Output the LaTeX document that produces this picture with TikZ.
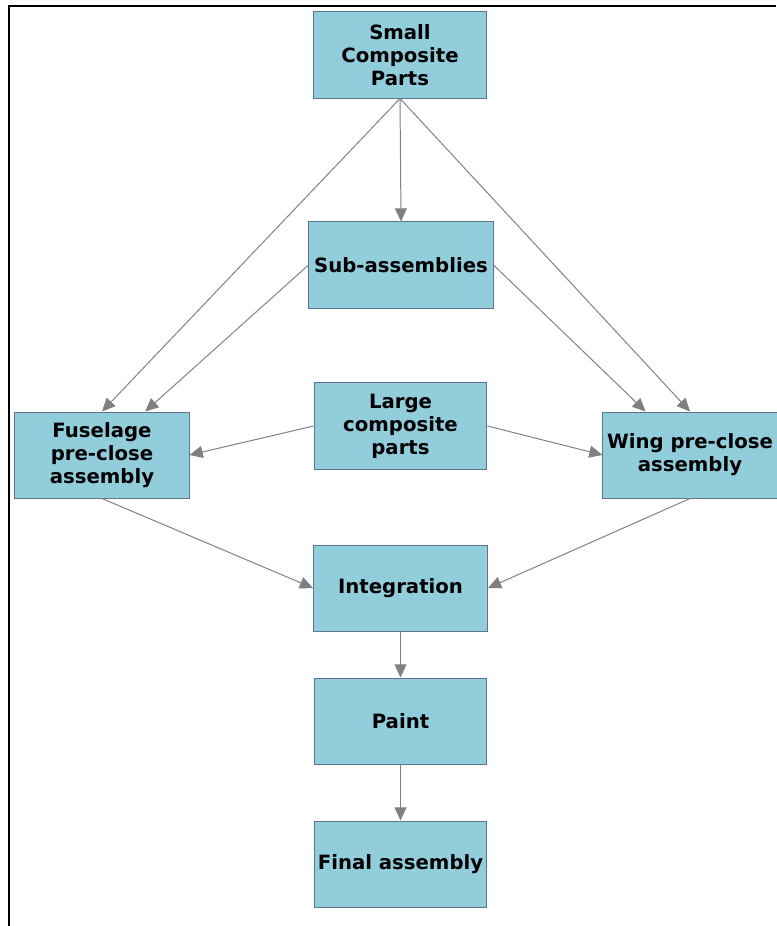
\documentclass[tikz,border=0pt]{standalone}
\usepackage{fontspec}
\setmainfont{DejaVu Sans}
\usetikzlibrary{arrows.meta}
\definecolor{boxfill}{HTML}{92CDDC}
\definecolor{boxline}{HTML}{5E7391}
\definecolor{flow}{HTML}{808080}

\begin{document}
\begin{tikzpicture}[x=0.025cm,y=-0.025cm,
  stage/.style={draw=boxline,fill=boxfill,line width=0.7pt,minimum width=4.32cm,minimum height=2.15cm,align=center,inner sep=0pt,font=\fontsize{14}{16.4}\selectfont\bfseries},
  flowto/.style={draw=flow,line width=0.7pt,-{Triangle[length=0.33cm,width=0.3cm]}}]
\useasboundingbox (0,0) rectangle (776,926);
\draw[line width=1.4pt] (9,926) -- (9,6) -- (776,6);

\path(400,55) node[stage](parts){Small\\Composite\\Parts} (401,265) node[stage,minimum width=4.6cm](sub){Sub-assemblies} (400.5,426) node[stage](large){Large\\composite\\parts} (102,455) node[stage,minimum width=4.35cm](fuselage){Fuselage\\pre-close\\assembly} (690,455) node[stage,minimum width=4.35cm](wing){Wing pre-close\\assembly} (400.5,588) node[stage,minimum width=4.35cm](integration){Integration} (400.5,721) node[stage](paint){Paint} (400.5,864) node[stage](final){Final assembly};

\draw[flowto] (parts.south) -- (sub.north);
\draw[flowto] (parts.south) -- (fuselage.north);
\draw[flowto] (parts.south) -- (wing.north);
\draw[flowto] (sub.west) -- ([xshift=1.08cm]fuselage.north);
\draw[flowto] (sub.east) -- ([xshift=-1.11cm]wing.north);
\draw[flowto] (large.west) -- (fuselage.east);
\draw[flowto] (large.east) -- (wing.west);
\draw[flowto] (fuselage.south) -- (integration.west);
\draw[flowto] (wing.south) -- (integration.east);
\draw[flowto] (integration) -- (paint);
\draw[flowto] (paint) -- (final);
\end{tikzpicture}
\end{document}
